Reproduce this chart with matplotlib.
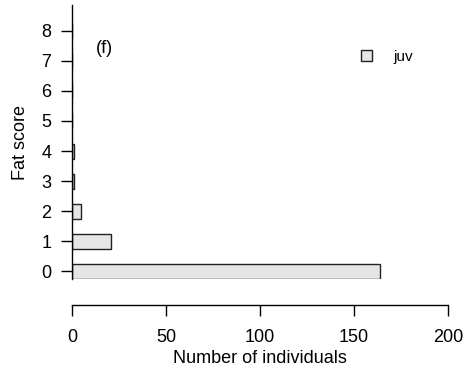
import matplotlib
matplotlib.use("Agg")
import matplotlib.pyplot as plt
import numpy as np

plt.rcParams["font.family"] = ["Liberation Sans", "DejaVu Sans"]

# data
fat_scores = [0, 1, 2, 3, 4, 5, 6, 7, 8]
juv_counts = [164, 21, 5, 1, 1, 0, 0, 0, 0]
x_ticks = [0, 50, 100, 150, 200]

W, H = 471, 373
fig = plt.figure(figsize=(W / 100, H / 100), dpi=100)
ax = fig.add_axes([72 / W, (H - 279) / H, (448 - 72) / W, (279 - 5) / H])

# R-style barplot positions: width 1, space 1
centers = 1.5 + 2 * np.arange(len(fat_scores))
ax.barh(centers, juv_counts, height=1.0, color="#e5e5e5",
        edgecolor="#222222", linewidth=1.0)

ax.set_xlim(0, 200)
ax.set_ylim(1, 19.2)

for s in ["top", "right"]:
    ax.spines[s].set_visible(False)
ax.spines["bottom"].set_position(("outward", 18.5))
ax.spines["left"].set_linewidth(1.0)
ax.spines["bottom"].set_linewidth(1.0)

ax.set_xticks(x_ticks)
ax.set_xticklabels([str(v) for v in x_ticks])
ax.set_yticks(centers)
ax.set_yticklabels([str(v) for v in fat_scores])
ax.tick_params(axis="x", length=8, width=1.0, pad=9.5, labelsize=13)
ax.tick_params(axis="y", length=8, width=1.0, pad=7, labelsize=13)

ax.set_xlabel("Number of individuals", fontsize=13, labelpad=3)
ax.set_ylabel("Fat score", fontsize=13, labelpad=9)

ax.text(17, 16.3, "(f)", fontsize=13, ha="center", va="center")

leg = ax.legend(["juv"], loc="center left", bbox_to_anchor=(0.768, 0.81),
                frameon=False, fontsize=11, handlelength=0.75, handleheight=0.75,
                handletextpad=1.4, borderpad=0, borderaxespad=0)

fig.savefig("out.png", dpi=100)
